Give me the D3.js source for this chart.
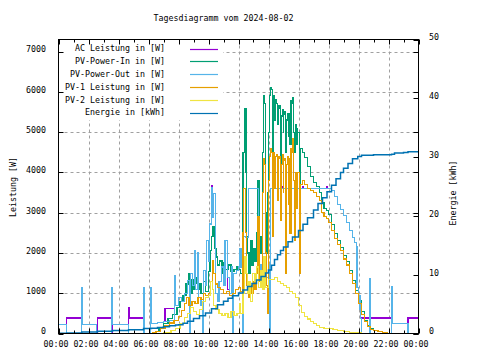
<!DOCTYPE html>
<html><head><meta charset="utf-8">
<script src="https://cdn.jsdelivr.net/npm/d3@7"></script>
<style>
body{margin:0;background:#fff}
text{font-family:"DejaVu Sans Mono",monospace;font-size:8.3px;fill:#000}
</style>
</head><body><svg id="c" width="480" height="360"></svg>
<script>
// ---- data: [hour, value] ----
const title = "Tagesdiagramm vom 2024-08-02";
const seriesNames = ["AC Leistung in [W]","PV-Power-In in [W]","PV-Power-Out in [W]","PV-1 Leistung in [W]","PV-2 Leistung in [W]","Energie in [kWh]"];
const seriesColors = ["#9400d3","#009e73","#56b4e9","#e69f00","#f0e442","#0072b2"];
const xTickLabels = ["00:00","02:00","04:00","06:00","08:00","10:00","12:00","14:00","16:00","18:00","20:00","22:00","00:00"];
const yTicks = [0,1000,2000,3000,4000,5000,6000,7000];
const y2Ticks = [0,10,20,30,40,50];

const acLeistung = [[0,0],[0.56,385],[1.56,0],[2.6,385],[3.6,0],[4.67,640],[4.73,385],[5.67,0],[6.15,1150],[6.22,255],[6.6,280],[7.0,300],[7.1,615],[7.73,1450],[7.8,700],[8.0,900],[8.2,800],[8.4,1000],[8.6,1316],[8.72,0],[8.77,1480],[8.95,1200],[9.05,2060],[9.15,1100],[9.25,2000],[9.35,900],[9.5,700],[9.6,0],[9.65,1565],[9.8,1200],[9.87,2310],[10.0,1800],[10.08,2720],[10.17,3680],[10.25,2890],[10.35,3470],[10.45,1000],[10.6,800],[10.7,1300],[10.85,1650],[11.0,1200],[11.1,2310],[11.25,1100],[11.4,1000],[11.55,1650],[11.62,0],[11.67,1500],[11.85,1560],[12.0,1650],[12.1,2100],[12.2,1650],[12.3,1000],[12.35,2400],[12.45,2390],[12.65,3600],[13.35,1500],[13.5,1700],[13.6,1300],[13.7,1600],[13.85,1400],[14.0,1700],[14.1,0],[14.15,3600],[14.9,3650],[14.95,3600],[16.3,3650],[16.35,3600],[17.9,3650],[17.95,3600],[18.0,3600],[18.2,3550],[18.4,3400],[18.6,3200],[18.8,3080],[19.0,2930],[19.2,2760],[19.4,2550],[19.6,2380],[19.75,2250],[19.85,2150],[19.9,1150],[20.0,950],[20.1,600],[20.15,380],[20.2,385],[22.2,0],[23.3,385],[24,385]];

const pvIn = [[0,0],[6.4,0],[6.5,50],[6.7,120],[7.0,250],[7.3,380],[7.6,480],[7.9,650],[8.1,800],[8.3,950],[8.5,1230],[8.65,1480],[8.75,1000],[8.9,1350],[9.0,1100],[9.1,1250],[9.2,1400],[9.3,1100],[9.4,1250],[9.5,1000],[9.65,1300],[9.8,1050],[10.0,1550],[10.1,2060],[10.2,2400],[10.3,2650],[10.4,2100],[10.5,1900],[10.6,1700],[10.75,1800],[10.9,1500],[11.0,1750],[11.1,1600],[11.3,1700],[11.5,1550],[11.7,1600],[11.9,1650],[12.0,1600],[12.15,1500],[12.3,4500],[12.4,5580],[12.5,4000],[12.55,2400],[12.6,2000],[12.7,1500],[12.8,2300],[12.9,1700],[13.0,2100],[13.1,1800],[13.2,2500],[13.3,3800],[13.4,2000],[13.5,2400],[13.6,4500],[13.65,5900],[13.72,5700],[13.78,3000],[13.85,2000],[13.95,3500],[14.0,5000],[14.05,5900],[14.12,6100],[14.2,6050],[14.25,3400],[14.3,5000],[14.35,5900],[14.42,5300],[14.47,5800],[14.55,5700],[14.6,5200],[14.65,5600],[14.7,5650],[14.78,3800],[14.85,5400],[14.92,5550],[14.97,5000],[15.02,5500],[15.1,5450],[15.15,4500],[15.2,5300],[15.27,5450],[15.33,4900],[15.37,5450],[15.42,4700],[15.5,5780],[15.55,5700],[15.6,5850],[15.65,5000],[15.72,4500],[15.77,5200],[15.85,5100],[15.9,4700],[15.95,5000],[16.05,3700],[16.1,4600],[16.25,4500],[16.4,4380],[16.6,4150],[16.8,3900],[17.0,3750],[17.2,3650],[17.4,3500],[17.55,3250],[17.7,3100],[17.85,3050],[18.0,2950],[18.2,2700],[18.4,2480],[18.6,2300],[18.8,2130],[19.0,1930],[19.2,1780],[19.4,1570],[19.6,1320],[19.8,1070],[20.0,820],[20.2,540],[20.4,330],[20.6,200],[20.8,120],[21.0,80],[21.3,45],[21.6,20],[21.9,5],[22.2,0],[24,0]];

const pvOut = [[0,225],[0.56,0],[1.53,1150],[1.6,225],[2.56,0],[3.55,1150],[3.62,225],[4.67,0],[5.65,1150],[5.72,0],[6.15,1150],[6.22,255],[6.6,280],[7.0,300],[7.4,320],[7.73,1450],[7.8,700],[8.0,900],[8.2,800],[8.4,1000],[8.6,1316],[8.72,0],[8.77,1480],[8.95,1200],[9.05,2060],[9.15,1100],[9.25,2000],[9.35,900],[9.5,700],[9.6,0],[9.65,1565],[9.8,1200],[9.87,2310],[10.0,1800],[10.08,2720],[10.17,3630],[10.25,2890],[10.35,3470],[10.45,1000],[10.6,800],[10.7,1300],[10.85,1650],[11.0,1200],[11.1,2310],[11.25,1400],[11.4,1000],[11.55,1650],[11.62,0],[11.67,1500],[11.85,1560],[12.0,1650],[12.1,2100],[12.2,1650],[12.3,0],[12.35,2400],[12.45,2390],[12.65,3600],[13.35,1500],[13.5,1700],[13.6,1300],[13.7,1600],[13.85,1400],[14.0,1700],[14.1,0],[14.15,3600],[18.0,3600],[18.2,3550],[18.4,3400],[18.6,3200],[18.8,3080],[19.0,2930],[19.2,2760],[19.4,2550],[19.6,2380],[19.75,2250],[19.85,2150],[19.9,1150],[20.0,950],[20.1,600],[20.15,380],[20.2,0],[20.72,1360],[20.78,0],[22.18,1170],[22.25,250],[23.3,0],[24,0]];

const pv1 = [[0,0],[6.2,0],[6.3,20],[6.5,60],[6.8,130],[7.1,200],[7.4,260],[7.7,320],[8.0,420],[8.2,560],[8.4,740],[8.55,900],[8.7,700],[8.9,800],[9.1,750],[9.3,900],[9.5,850],[9.65,1000],[9.8,950],[10.0,1000],[10.15,1300],[10.25,1800],[10.35,1500],[10.45,1230],[10.6,1150],[10.8,1100],[11.0,1000],[11.2,1050],[11.4,950],[11.6,1000],[11.8,1100],[12.0,1150],[12.15,1050],[12.3,2500],[12.35,3600],[12.45,2500],[12.55,1200],[12.6,1300],[12.7,900],[12.8,1200],[12.9,1000],[13.0,1300],[13.1,1100],[13.2,1500],[13.3,2900],[13.4,1300],[13.5,1500],[13.6,3500],[13.65,4350],[13.72,4200],[13.78,2000],[13.85,1200],[13.92,500],[13.97,2500],[14.02,3800],[14.07,4400],[14.12,4600],[14.2,4500],[14.25,2400],[14.3,3800],[14.35,4500],[14.42,3600],[14.47,4400],[14.55,4450],[14.6,3300],[14.65,4350],[14.7,4400],[14.78,2800],[14.85,4200],[14.92,4450],[14.97,3500],[15.02,4350],[15.1,4300],[15.15,1500],[15.2,4200],[15.27,4400],[15.33,3200],[15.37,4350],[15.42,2480],[15.5,4600],[15.55,4500],[15.6,4850],[15.65,3800],[15.72,2300],[15.77,4000],[15.85,3900],[15.9,3100],[15.95,4000],[16.05,1500],[16.1,3700],[16.25,3800],[16.4,3700],[16.6,3600],[16.8,3550],[17.0,3500],[17.2,3400],[17.4,3300],[17.55,3000],[17.7,2900],[17.85,2850],[18.0,2750],[18.2,2550],[18.4,2350],[18.6,2200],[18.8,2050],[19.0,1850],[19.2,1700],[19.4,1500],[19.6,1250],[19.8,1000],[20.0,750],[20.2,480],[20.4,300],[20.6,180],[20.8,110],[21.0,70],[21.3,40],[21.6,20],[21.9,5],[22.2,0],[24,0]];

const pv2 = [[0,0],[6.3,0],[6.5,10],[7.0,30],[7.5,70],[7.8,120],[8.1,250],[8.4,400],[8.6,500],[8.8,650],[9.0,550],[9.2,480],[9.4,600],[9.6,800],[9.8,900],[10.0,950],[10.15,1300],[10.25,1100],[10.35,700],[10.5,600],[10.7,500],[10.9,450],[11.1,500],[11.3,400],[11.5,550],[11.7,450],[11.9,500],[12.05,740],[12.15,500],[12.3,1000],[12.42,1900],[12.5,1500],[12.6,1000],[12.7,1300],[12.8,800],[12.95,1480],[13.1,1300],[13.2,1650],[13.35,1150],[13.5,1560],[13.6,1100],[13.7,1900],[13.8,1150],[14.0,1350],[14.2,1350],[14.4,1400],[14.6,1300],[14.8,1250],[15.0,1200],[15.2,1150],[15.4,1050],[15.6,1000],[15.8,900],[16.0,700],[16.2,520],[16.4,420],[16.6,360],[16.8,300],[17.0,240],[17.2,190],[17.4,156],[17.7,130],[18.0,115],[18.3,95],[18.6,75],[19.0,55],[19.4,35],[19.8,20],[20.2,10],[20.6,0],[24,0]];

const energie = [[0,0.05],[0.56,0.1],[1.56,0.25],[2.6,0.4],[3.6,0.5],[4.67,0.65],[5.67,0.85],[6.2,0.9],[6.6,1.0],[7.0,1.15],[7.4,1.3],[7.8,1.45],[8.0,1.5],[8.3,1.75],[8.6,2.1],[9.0,2.55],[9.4,3.0],[9.8,3.5],[10.2,4.2],[10.6,4.9],[11.0,5.5],[11.3,6.0],[11.6,6.4],[12.0,6.9],[12.3,7.4],[12.6,8.0],[12.9,8.5],[13.2,9.1],[13.5,9.7],[13.8,10.3],[14.0,10.8],[14.2,11.6],[14.4,12.6],[14.6,13.4],[14.8,14.1],[15.0,14.7],[15.3,15.6],[15.6,16.4],[16.0,17.5],[16.3,18.6],[16.6,19.7],[17.0,21.0],[17.3,22.1],[17.6,23.1],[17.9,24.1],[18.2,25.2],[18.5,26.3],[18.8,27.4],[19.0,28.1],[19.3,28.9],[19.6,29.7],[19.95,30.1],[20.2,30.3],[21.0,30.4],[22.2,30.5],[22.4,30.7],[23.0,30.8],[23.3,30.9],[24,31.0]];

// ---- layout ----
const svg = d3.select("#c");
const X0 = 58.5, X1 = 418.5, YT = 39.5, YB = 333.5;
const x = d3.scaleLinear().domain([0,24]).range([X0,X1]);
const y = d3.scaleLinear().domain([0,7300]).range([YB,YT]);
const y2 = d3.scaleLinear().domain([0,50]).range([YB,YT]);

// grid
const grid = svg.append("g").attr("stroke","#a0a0a0").attr("stroke-width",1).attr("stroke-dasharray","3,3");
d3.range(2,24,2).forEach(h=>{
  grid.append("line").attr("x1",Math.round(x(h))+0.5).attr("x2",Math.round(x(h))+0.5).attr("y1",YT).attr("y2",YB);
});
yTicks.slice(1).forEach(v=>{
  const yy = Math.round(y(v))+0.5;
  grid.append("line").attr("x1",X0).attr("x2",X1).attr("y1",yy).attr("y2",yy);
});

// opaque key background
svg.append("rect").attr("x",59).attr("y",40).attr("width",164).attr("height",80).attr("fill","#fff");

// clip
svg.append("clipPath").attr("id","clip").append("rect").attr("x",X0).attr("y",YT).attr("width",X1-X0).attr("height",YB-YT);

// series
const lineW = d3.line().x(d=>x(d[0])).y(d=>y(d[1])).curve(d3.curveStepAfter);
const lineE = d3.line().x(d=>x(d[0])).y(d=>y2(d[1])).curve(d3.curveStepAfter);
const plotG = svg.append("g").attr("clip-path","url(#clip)");
const seriesData = [acLeistung,pvIn,pvOut,pv1,pv2];
seriesData.forEach((s,i)=>{
  plotG.append("path").datum(s).attr("d",lineW).attr("fill","none")
    .attr("stroke",seriesColors[i]).attr("stroke-width",1.1).attr("shape-rendering","crispEdges");
});
plotG.append("path").datum(energie).attr("d",lineE).attr("fill","none")
  .attr("stroke",seriesColors[5]).attr("stroke-width",1.5);

// border
svg.append("rect").attr("x",X0).attr("y",YT).attr("width",X1-X0).attr("height",YB-YT)
  .attr("fill","none").attr("stroke","#000").attr("stroke-width",1);

// ticks
const tk = svg.append("g").attr("stroke","#000").attr("stroke-width",1);
d3.range(0,25,1).forEach(h=>{
  const xx = Math.round(x(h))+0.5, L = (h%2===0)?5:3;
  tk.append("line").attr("x1",xx).attr("x2",xx).attr("y1",YB).attr("y2",YB-L);
  tk.append("line").attr("x1",xx).attr("x2",xx).attr("y1",YT).attr("y2",YT+L);
});
yTicks.forEach(v=>{
  const yy = Math.round(y(v))+0.5;
  tk.append("line").attr("x1",X0).attr("x2",X0+5).attr("y1",yy).attr("y2",yy);
  tk.append("line").attr("x1",X1).attr("x2",X1-5).attr("y1",yy).attr("y2",yy);
});
y2Ticks.forEach(v=>{
  const yy = Math.round(y2(v))+0.5;
  tk.append("line").attr("x1",X1).attr("x2",X1-5).attr("y1",yy).attr("y2",yy);
});

// tick labels
xTickLabels.forEach((t,i)=>{
  svg.append("text").attr("x",x(i*2)-2.5).attr("y",344).attr("dy","0.35em").attr("text-anchor","middle").text(t);
});
yTicks.forEach(v=>{
  svg.append("text").attr("x",46).attr("y",y(v)-2).attr("dy","0.35em").attr("text-anchor","end").text(v);
});
y2Ticks.forEach(v=>{
  svg.append("text").attr("x",429).attr("y",y2(v)-2).attr("dy","0.35em").attr("text-anchor","start").text(v);
});

// titles
svg.append("text").attr("x",223.5).attr("y",18).attr("dy","0.35em").attr("text-anchor","middle").text(title);
svg.append("text").attr("transform","translate(13,187) rotate(-90)").attr("dy","0.35em").attr("text-anchor","middle").text("Leistung [W]");
svg.append("text").attr("transform","translate(453,193) rotate(-90)").attr("dy","0.35em").attr("text-anchor","middle").text("Energie [kWh]");

// legend
seriesNames.forEach((n,i)=>{
  const yy = 48.5 + i*12.8;
  svg.append("text").attr("x",165).attr("y",yy).attr("dy","0.35em").attr("text-anchor","end").text(n);
  svg.append("line").attr("x1",190).attr("x2",218).attr("y1",Math.round(yy)+0.5).attr("y2",Math.round(yy)+0.5)
    .attr("stroke",seriesColors[i]).attr("stroke-width",1.2);
});
</script></body></html>
